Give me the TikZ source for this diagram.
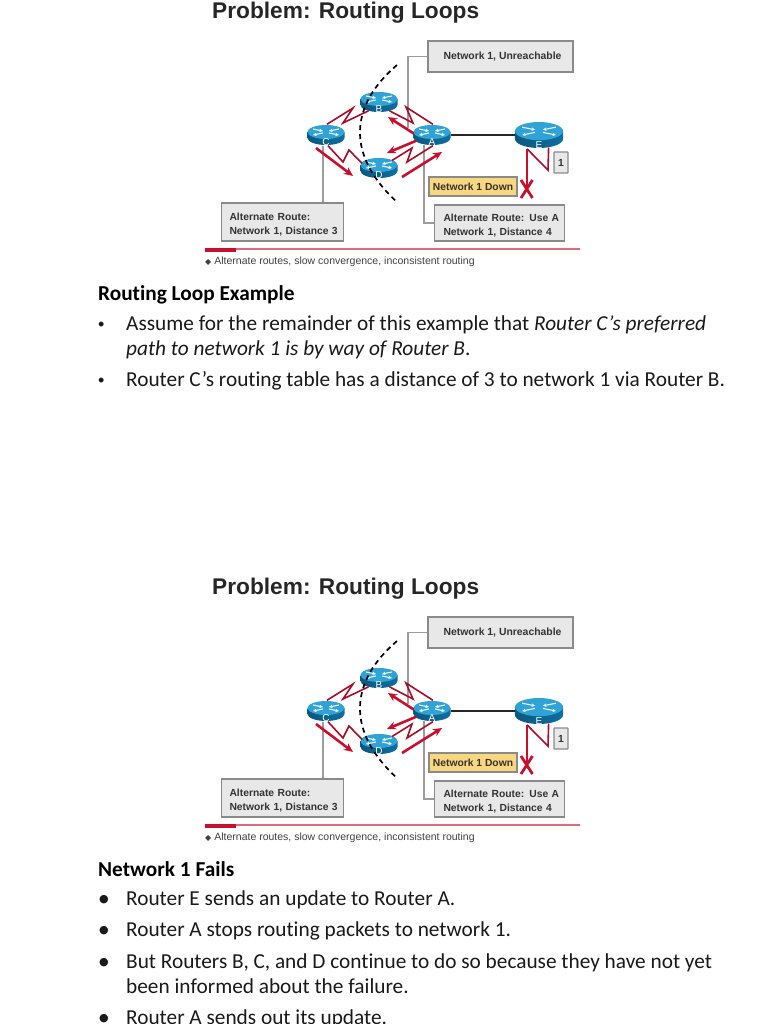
\documentclass[tikz,border=0pt]{standalone}
\usepackage{fontspec}
\setmainfont[Ligatures=NoCommon]{Carlito}
\newfontfamily\arialfont{Liberation Sans}
\newfontfamily\symbfont{DejaVu Sans}
\usetikzlibrary{shapes.geometric,arrows.meta}
\definecolor{routerdark}{HTML}{0F6E9E}
\definecolor{routertop}{HTML}{2FA3D6}
\definecolor{ciscored}{HTML}{C8102E}
\definecolor{rulered}{HTML}{E0697C}
\definecolor{boxgray}{HTML}{E8E8E8}
\definecolor{edgegray}{HTML}{8A8A8A}
\definecolor{downyellow}{HTML}{F9D77E}
\tikzset{
  routernode/.style={ellipse,inner sep=0pt,text=white,font=\arialfont\fontsize{10}{10}\selectfont},
  infobox/.style={draw=edgegray,fill=boxgray,line width=1.1pt,inner sep=0pt,font=\arialfont\bfseries\fontsize{10.3}{14}\selectfont,text=black!80},
  zigzag/.style={draw=ciscored!85!black,line width=1.6pt,line join=miter},
  redarrow/.style={draw=ciscored,line width=2.6pt,-{Stealth[length=9pt,width=8pt]}},
  leader/.style={draw=edgegray!85,line width=1.1pt},
  heading/.style={anchor=base west,inner sep=0pt,font=\bfseries\fontsize{21.3}{21.3}\selectfont},
  bodyline/.style={anchor=base west,inner sep=0pt,font=\fontsize{21.3}{21.3}\selectfont,text=black!90},
}
\newcommand{\router}[4]{%
  \begin{scope}[shift={(#2,#3)},scale=#4]
    \shade[left color=routerdark!80!black,right color=routerdark] (-18.5,-3) -- (-18.5,3) arc[start angle=180,end angle=0,x radius=18.5,y radius=7] -- (18.5,-3) -- cycle;
    \fill[routertop] (0,-3) ellipse[x radius=18.5,y radius=7];
    \foreach \sx in {-1,1} {
      \draw[white!90!routertop,line width=1.1pt,-{Stealth[length=3.5pt,width=3.5pt]}] (\sx*13,-6) -- (\sx*3,-4);
      \draw[white!90!routertop,line width=1.1pt,-{Stealth[length=3.5pt,width=3.5pt]}] (\sx*3,-2) -- (\sx*13,0);
    }
  \end{scope}
  \node[routernode,minimum width=#4*37pt,minimum height=#4*21pt] (#1) at (#2,#3) {\smash{\raisebox{-#4\dimexpr 10.5pt\relax}{#1}}};
}
\begin{document}
\begin{tikzpicture}[x=1pt,y=-1pt]
  \useasboundingbox (0,0) rectangle (768,1024);

  % The same figure twice on the page
  \foreach \fig/\dy in {top/0, low/576} {
    \begin{scope}[shift={(0,\dy)},name prefix=\fig-]
      \node[anchor=base west,inner sep=0pt,font=\arialfont\bfseries\fontsize{22.7}{22.7}\selectfont,text=black!85] (title) at (212,18.5) {Problem: Routing Loops};

      % Boxes
      \node[infobox,minimum width=145pt,minimum height=31pt] (unreach) at (500.5,56.5) {\fontsize{10.4}{14}\selectfont\hspace*{4pt}\raisebox{-1.5pt}{Network 1, Unreachable}};
      \node[infobox,minimum height=38pt,align=left,anchor=west,text width=114pt,inner xsep=4pt,execute at begin node={\leftskip=4pt\rule{0pt}{13pt}}] (altC) at (221,222) {Alternate Route:\\Network 1, Distance 3};
      \node[infobox,minimum height=36pt,align=left,anchor=west,text width=122pt,inner xsep=4pt,execute at begin node={\leftskip=5pt\rule{0pt}{13pt}}] (altA) at (434,223) {Alternate Route: Use A\\Network 1, Distance 4};
      \node[infobox,fill=downyellow,minimum width=88pt,minimum height=19pt] (down) at (473,186.5) {\raisebox{-1pt}{Network 1 Down}};
      \node[infobox,minimum width=14pt,minimum height=21pt,rounded corners=.5pt] (one) at (561,162.5) {1};

      % Routers
      \router{B}{379}{102}{1}
      \router{C}{326}{135}{1}
      \router{D}{379}{168}{1}
      \router{A}{432}{135}{1}
      \router{E}{539}{135}{1.3}

      % Gray leaders
      \coordinate (Aup) at (408,128);
      \coordinate (Adown) at (424,145);
      \draw[leader] (unreach.west) -| (Aup);
      \draw[leader] (altA.west) -| (Adown);
      \draw[leader] (C.south -| 323,0) -- (altC.north -| 323,0);

      % Link to router E
      \draw[black!85,line width=2pt] (A.east) -- (E.west);

      % Zigzag links
      \draw[zigzag] (C.85) -- (353,108) -- (343,123) -- (B.220);
      \draw[zigzag] (B.-40) -- (413,123) -- (406,107) -- (A.85);
      \draw[zigzag] (C.-80) -- (343,162) -- (349,150) -- (D.165);
      \draw[zigzag] (D.30) -- (412,148) -- (407,162) -- (A.-85);

      % Update arrows
      \draw[redarrow] (A.175) -- (388,117);
      \draw[redarrow] (A.200) -- (387,153);
      \draw[redarrow] (402,177) -- (442,152);
      \draw[redarrow] (316,148) -- (353,176);

      % Failed link
      \coordinate (cut) at (527,188);
      \draw[zigzag] (E.south -| cut) -- (548,170) -- (E.-53);
      \draw[ciscored,line width=1.8pt] (E.south -| cut) -- (cut);
      \draw[ciscored,line width=2.8pt] (521,180) -- (532.5,198) (532.5,180) -- (521,198);

      % Boundary line
      \coordinate (dashup) at (397,65);
      \coordinate (dashlow) at (398,203);
      \draw[black,line width=1.7pt,dash pattern=on 5pt off 4pt] (dashup) .. controls (350,105) and (345,155) .. (dashlow);

      % Rule and note
      \coordinate (ruleL) at (205,249);
      \coordinate (ruleR) at (580,249);
      \draw[rulered,line width=1.2pt] (ruleL) -- (ruleR);
      \fill[ciscored] (205,248) rectangle (236,252);
      \node[anchor=base west,inner sep=0pt,font=\arialfont\fontsize{10.5}{10.5}\selectfont,text=black!75] (note) at (205,264.5) {{\symbfont\fontsize{8}{8}\selectfont ◆}\hspace{3pt}Alternate routes, slow convergence, inconsistent routing};
    \end{scope}
  }

  % First block of text
  \node[heading] (headA) at (98,300) {Routing Loop Example};
  \foreach \yb/\bul/\txt in {
      330/•/{Assume for the remainder of this example that \textit{Router C’s preferred}},
      355//{\textit{path to network 1 is by way of Router B}.},
      386/•/{Router C’s routing table has a distance of 3 to network 1 via Router B.}} {
    \node[bodyline] (bul\yb) at (98,\yb) {\arialfont\fontsize{18}{18}\selectfont\bul};
    \node[bodyline] (txt\yb) at (126,\yb) {\txt};
  }

  % Second block of text
  \node[heading] (headB) at (98,876) {Network 1 Fails};
  \foreach \yb/\bul/\txt in {
      905/●/{Router E sends an update to Router A.},
      936/●/{Router A stops routing packets to network 1.},
      968/●/{But Routers B, C, and D continue to do so because they have not yet},
      993//{been informed about the failure.},
      1024/●/{Router A sends out its update.}} {
    \node[bodyline] (bul\yb) at (99,\yb) {\raisebox{2.5pt}{\symbfont\fontsize{11}{11}\selectfont\bul}};
    \node[bodyline] (txt\yb) at (126,\yb) {\txt};
  }
\end{tikzpicture}
\end{document}
